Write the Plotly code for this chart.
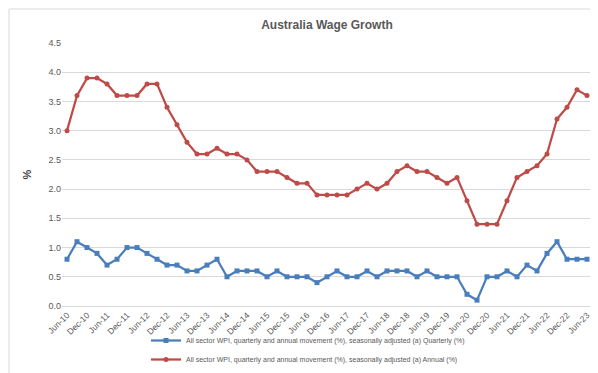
import plotly.graph_objects as go

quarters = []
for yr in range(10, 24):
    for m in ["Mar", "Jun", "Sep", "Dec"]:
        quarters.append(f"{m}-{yr:02d}")
quarters = quarters[quarters.index("Jun-10"):quarters.index("Jun-23") + 1]

quarterly = [0.8, 1.1, 1.0,
             0.9, 0.7, 0.8, 1.0,
             1.0, 0.9, 0.8, 0.7,
             0.7, 0.6, 0.6, 0.7,
             0.8, 0.5, 0.6, 0.6,
             0.6, 0.5, 0.6, 0.5,
             0.5, 0.5, 0.4, 0.5,
             0.6, 0.5, 0.5, 0.6,
             0.5, 0.6, 0.6, 0.6,
             0.5, 0.6, 0.5, 0.5,
             0.5, 0.2, 0.1, 0.5,
             0.5, 0.6, 0.5, 0.7,
             0.6, 0.9, 1.1, 0.8,
             0.8, 0.8]

annual = [3.0, 3.6, 3.9,
          3.9, 3.8, 3.6, 3.6,
          3.6, 3.8, 3.8, 3.4,
          3.1, 2.8, 2.6, 2.6,
          2.7, 2.6, 2.6, 2.5,
          2.3, 2.3, 2.3, 2.2,
          2.1, 2.1, 1.9, 1.9,
          1.9, 1.9, 2.0, 2.1,
          2.0, 2.1, 2.3, 2.4,
          2.3, 2.3, 2.2, 2.1,
          2.2, 1.8, 1.4, 1.4,
          1.4, 1.8, 2.2, 2.3,
          2.4, 2.6, 3.2, 3.4,
          3.7, 3.6]

tick_labels = quarters[::2]
y_ticks = [0.0, 0.5, 1.0, 1.5, 2.0, 2.5, 3.0, 3.5, 4.0, 4.5]

name_q = "All sector WPI, quarterly and annual movement (%), seasonally adjusted (a) Quarterly (%)"
name_a = "All sector WPI, quarterly and annual movement (%), seasonally adjusted (a) Annual (%)"

fig = go.Figure()
fig.add_trace(go.Scatter(x=quarters, y=quarterly, name=name_q, mode="lines+markers",
                         line=dict(color="#4a7ebb", width=2.25),
                         marker=dict(symbol="square", size=5, color="#4a7ebb")))
fig.add_trace(go.Scatter(x=quarters, y=annual, name=name_a, mode="lines+markers",
                         line=dict(color="#be4b48", width=2.25),
                         marker=dict(symbol="circle", size=5, color="#be4b48")))

W, H = 598, 373
L, R, T, B = 54, 14, 35, 75
PW, PH = W - L - R, H - T - B

font_fam = "Liberation Sans, Arial, sans-serif"
fig.update_layout(
    width=W, height=H,
    margin=dict(l=L, r=R, t=T, b=B, autoexpand=False),
    paper_bgcolor="white", plot_bgcolor="white",
    font=dict(family=font_fam, color="#595959", size=9),
    title=dict(text="<b>Australia Wage Growth</b>", x=0.5, xref="paper", y=1 - 17 / H,
               yanchor="middle", xanchor="center",
               font=dict(size=12, color="#595959", family=font_fam)),
    showlegend=True,
    legend=dict(orientation="v", x=(300 - L) / PW, xanchor="center", xref="paper",
                yref="container", y=1 - 318 / H, yanchor="top", maxheight=200,
                font=dict(size=7, color="#595959"), tracegroupgap=0,
                itemwidth=30, bgcolor="rgba(0,0,0,0)", borderwidth=0),
    xaxis=dict(type="category", categoryorder="array", categoryarray=quarters,
               tickmode="array", tickvals=tick_labels, ticktext=tick_labels,
               tickangle=-45, tickfont=dict(size=8.5, color="#595959"),
               showgrid=False, showline=True, linecolor="#d9d9d9", linewidth=1,
               ticks="", range=[-0.5, len(quarters) - 0.5], automargin=False),
    yaxis=dict(range=[0, 4.5], tickvals=y_ticks, ticktext=[f"{v:.1f}" for v in y_ticks],
               showgrid=True, gridcolor="#d9d9d9", gridwidth=1, zeroline=False,
               showline=False, ticks="", tickfont=dict(size=9, color="#595959"),
               automargin=False,
               title=dict(text="<b>%</b>", font=dict(size=11, color="#404040"), standoff=14)),
    shapes=[dict(type="rect", xref="paper", yref="paper",
                 x0=-(L - 1) / PW, x1=1 + (R - 2) / PW, y0=-(B - 2) / PH, y1=1 + (T - 1) / PH,
                 line=dict(color="#d9d9d9", width=1), fillcolor="rgba(0,0,0,0)", layer="below")],
)

fig.write_html("out.html")
